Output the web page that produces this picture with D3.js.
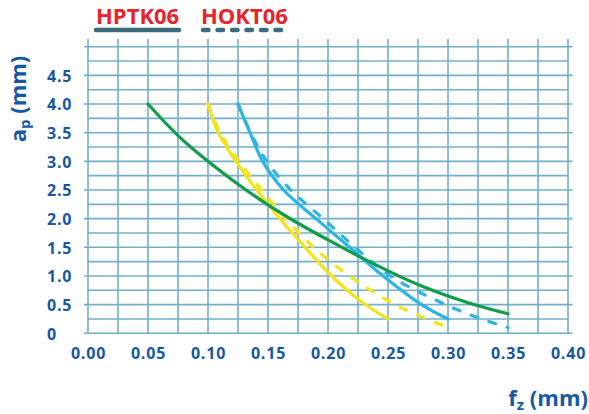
<!DOCTYPE html>
<html>
<head>
<meta charset="utf-8">
<script src="https://cdn.jsdelivr.net/npm/d3@7"></script>
<style>
  html, body { margin: 0; padding: 0; background: #fff; }
  svg { display: block; }
  text { font-family: "Open Sans", "Noto Sans", sans-serif; font-weight: bold; }
</style>
</head>
<body>
<svg id="chart" width="589" height="414"></svg>
<script>
// ---- data ----
const xTicks = [0.00, 0.05, 0.10, 0.15, 0.20, 0.25, 0.30, 0.35, 0.40];
const xTickLabels = ["0.00", "0.05", "0.10", "0.15", "0.20", "0.25", "0.30", "0.35", "0.40"];
const yTicks = [0, 0.5, 1.0, 1.5, 2.0, 2.5, 3.0, 3.5, 4.0, 4.5];
const yTickLabels = ["0", "0.5", "1.0", "1.5", "2.0", "2.5", "3.0", "3.5", "4.0", "4.5"];
const legendLabels = ["HPTK06", "HOKT06"];

// curves: [fz, ap]
const greenSolid = [[0.05,4.0],[0.075,3.45],[0.10,3.0],[0.125,2.6],[0.15,2.24],[0.175,1.92],[0.20,1.63],[0.225,1.35],[0.25,1.09],[0.275,0.85],[0.30,0.65],[0.325,0.48],[0.35,0.34]];
const yellowSolid = [[0.10,4.0],[0.1086,3.5],[0.1233,3.0],[0.1406,2.5],[0.160,2.0],[0.181,1.5],[0.203,1.0],[0.228,0.55],[0.25,0.25]];
const yellowDashed = [[0.10,4.0],[0.11,3.5],[0.126,3.0],[0.1447,2.5],[0.165,2.0],[0.188,1.5],[0.218,1.0],[0.256,0.5],[0.30,0.1]];
const blueSolid = [[0.125,4.0],[0.135,3.5],[0.1456,3.0],[0.163,2.5],[0.19,2.0],[0.218,1.5],[0.246,1.0],[0.278,0.5],[0.30,0.25]];
const blueDashed = [[0.125,4.0],[0.1355,3.5],[0.149,3.0],[0.169,2.5],[0.196,2.0],[0.2225,1.5],[0.252,1.0],[0.298,0.5],[0.328,0.25],[0.35,0.1]];

// ---- layout ----
const svg = d3.select("#chart");
const x = d3.scaleLinear().domain([0, 0.40]).range([88, 568]);
const y = d3.scaleLinear().domain([0, 5.0]).range([333.3, 46.7]);

const gridColor = "#72afcb";
const textBlue = "#1658a6";

// vertical grid lines every 0.025
const g = svg.append("g");
d3.range(0, 17).forEach(i => {
  const v = i * 0.025;
  g.append("line")
    .attr("x1", x(v)).attr("x2", x(v))
    .attr("y1", 39).attr("y2", y(0))
    .attr("stroke", gridColor).attr("stroke-width", 1.6);
});
// horizontal grid lines every 0.25
d3.range(0, 21).forEach(i => {
  const v = i * 0.25;
  const major = (i % 2 === 0);
  g.append("line")
    .attr("x1", major ? x(0) - 4 : x(0)).attr("x2", major ? x(0.40) + 4.5 : x(0.40))
    .attr("y1", y(v)).attr("y2", y(v))
    .attr("stroke", gridColor).attr("stroke-width", 1.6);
});

// axes labels via d3 axes (text only)
const yAxis = d3.axisLeft(y).tickValues(yTicks).tickFormat((d, i) => yTickLabels[i]).tickSize(0);
const ya = svg.append("g").attr("transform", "translate(47,0)").call(yAxis);
ya.select(".domain").remove();
ya.selectAll("text")
  .attr("x", 0).attr("dy", "0.36em")
  .attr("text-anchor", "start")
  .attr("fill", textBlue)
  .style("font-size", "16px").style("font-weight", "bold")
  .style("letter-spacing", "0.8px")
  .style("font-family", "'Open Sans', sans-serif");

const xAxis = d3.axisBottom(x).tickValues(xTicks).tickFormat((d, i) => xTickLabels[i]).tickSize(0);
const xa = svg.append("g").attr("transform", "translate(0,347)").call(xAxis);
xa.select(".domain").remove();
xa.selectAll("text")
  .attr("y", 0).attr("dy", "0.75em")
  .attr("fill", textBlue)
  .style("font-size", "16px").style("font-weight", "bold")
  .style("letter-spacing", "0.8px")
  .style("font-family", "'Open Sans', sans-serif");

// curves
const line = d3.line().x(d => x(d[0])).y(d => y(d[1])).curve(d3.curveCatmullRom.alpha(0.5));
const curves = [
  {data: yellowDashed, color: "#f3e31b", dash: "7,12"},
  {data: yellowSolid, color: "#f3e31b", dash: null},
  {data: blueDashed, color: "#2bb4e6", dash: "7,12"},
  {data: blueSolid, color: "#2bb4e6", dash: null},
  {data: greenSolid, color: "#0f9d4a", dash: null}
];
curves.forEach(c => {
  svg.append("path")
    .attr("d", line(c.data))
    .attr("fill", "none")
    .attr("stroke", c.color)
    .attr("stroke-width", 3.2)
    .attr("stroke-linecap", "round")
    .attr("stroke-dasharray", c.dash);
});

// legend
const legendColor = "#3c6b7d";
svg.append("text").attr("x", 96).attr("y", 23.5).attr("fill", "#e8232b")
  .style("font-size", "22px").text(legendLabels[0]);
svg.append("line").attr("x1", 96).attr("x2", 179).attr("y1", 30).attr("y2", 30)
  .attr("stroke", legendColor).attr("stroke-width", 4.5).attr("stroke-linecap", "round");
svg.append("text").attr("x", 201).attr("y", 23.5).attr("fill", "#e8232b")
  .style("font-size", "22px").text(legendLabels[1]);
svg.append("line").attr("x1", 203).attr("x2", 282).attr("y1", 30).attr("y2", 30)
  .attr("stroke", legendColor).attr("stroke-width", 4.5).attr("stroke-linecap", "round")
  .attr("stroke-dasharray", "5.5,9");

// axis titles
const yt = svg.append("text")
  .attr("transform", "translate(26,99) rotate(-90)")
  .attr("text-anchor", "middle")
  .attr("fill", textBlue)
  .style("font-size", "22px");
yt.append("tspan").text("a");
yt.append("tspan").attr("dy", "4").style("font-size", "15px").text("p");
yt.append("tspan").attr("dy", "-4").text(" (mm)");

const xt = svg.append("text")
  .attr("x", 588).attr("y", 406)
  .attr("text-anchor", "end")
  .attr("fill", textBlue)
  .style("font-size", "22px");
xt.append("tspan").text("f");
xt.append("tspan").attr("dy", "4").style("font-size", "15px").text("z");
xt.append("tspan").attr("dy", "-4").text(" (mm)");
</script>
</body>
</html>
